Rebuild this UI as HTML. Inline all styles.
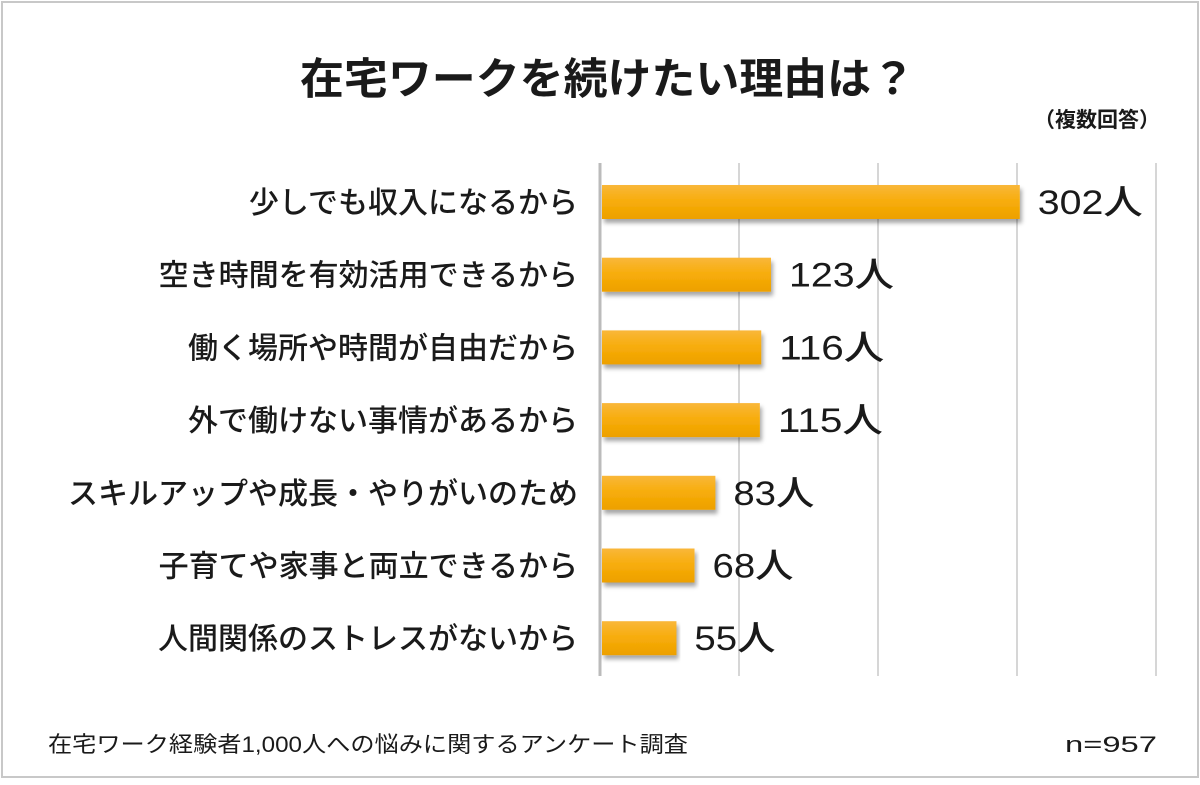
<!DOCTYPE html>
<html><head><meta charset="utf-8"><style>
body{margin:0;background:#fff;}
svg text{font-family:"Liberation Sans","Noto Sans CJK JP",sans-serif;fill:#1a1a1a;}
</style></head><body>
<svg id="c" width="1200" height="780">
<defs>
<linearGradient id="g" x1="0" y1="0" x2="0" y2="1">
<stop offset="0" stop-color="#f9b73a"/><stop offset="0.5" stop-color="#f7ac09"/><stop offset="1" stop-color="#eda000"/>
</linearGradient>
<filter id="sh" x="-5%" y="-20%" width="110%" height="160%"><feDropShadow dx="2" dy="4" stdDeviation="2" flood-color="#000" flood-opacity="0.35"/></filter>
</defs>
<rect x="2" y="2" width="1196" height="775" fill="#fff" stroke="#c8c8c8" stroke-width="2"/>
<text x="300" y="94" font-size="43" font-weight="bold" textLength="615" lengthAdjust="spacingAndGlyphs">在宅ワークを続けたい理由は？</text>
<text x="1160" y="127" font-size="21" font-weight="bold" text-anchor="end">（複数回答）</text>
<g id="grid"></g><g id="bars"></g>
<text x="48" y="752" font-size="22" textLength="640" lengthAdjust="spacingAndGlyphs">在宅ワーク経験者1,000人への悩みに関するアンケート調査</text>
<text x="1065" y="752" font-size="22" textLength="92" lengthAdjust="spacingAndGlyphs">n=957</text>
</svg>
<script>
const categories=["少しでも収入になるから","空き時間を有効活用できるから","働く場所や時間が自由だから","外で働けない事情があるから","スキルアップや成長・やりがいのため","子育てや家事と両立できるから","人間関係のストレスがないから"];
const values=[302,123,116,115,83,68,55];
const gridTicks=[0,100,200,300,400];
const NS="http://www.w3.org/2000/svg";
const x0=600,sx=1.39,y0=202,step=72.7,bh=34;
const X=v=>x0+v*sx, Y=i=>y0+i*step;
function mk(t,a,p){const e=document.createElementNS(NS,t);for(const k in a)e.setAttribute(k,a[k]);p.appendChild(e);return e;}
const grid=document.getElementById('grid'),bars=document.getElementById('bars');
gridTicks.forEach(t=>{
 const l=mk('line',{x1:X(t),x2:X(t),y1:163,y2:676,stroke:t===0?'#bbb':'#c8c8c8','stroke-width':t===0?3:1.5},grid);
 
 
});
categories.forEach((c,i)=>{
 const y=Y(i);
 const lb=mk('text',{x:578,y:y+11,'font-size':30,'font-weight':'500','text-anchor':'end'},bars);lb.textContent=c;
 
 
 const r=mk('rect',{x:X(0)+2,y:y-bh/2,width:values[i]*sx-2,height:bh,fill:'url(#g)',filter:'url(#sh)'},bars);
 
 
 const s=String(values[i]);
 const v=mk('text',{x:X(values[i])+18,y:y+12,'font-size':34,'font-weight':'500',textLength:(s.length*24+33),lengthAdjust:'spacingAndGlyphs'},bars);v.textContent=s+'人';
 
 
});
</script>
</body></html>
